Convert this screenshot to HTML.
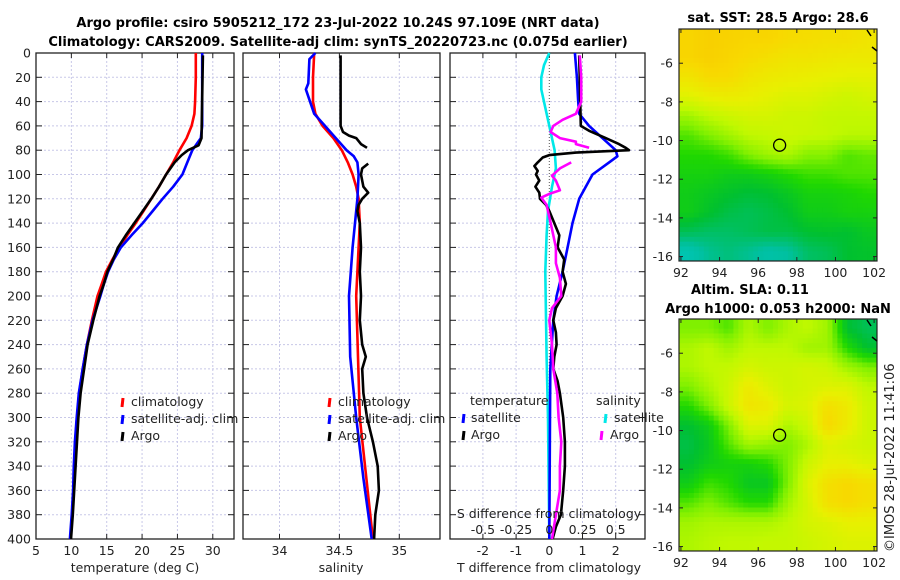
<!DOCTYPE html>
<html><head><meta charset="utf-8"><style>
body{margin:0;background:#fff;}
svg{display:block;font-family:"DejaVu Sans","Liberation Sans",sans-serif;}
</style></head><body>
<svg id="fig" width="900" height="580" viewBox="0 0 900 580" xmlns="http://www.w3.org/2000/svg">
<rect width="900" height="580" fill="#fff"/>
<text x="338" y="27" font-size="13" font-weight="bold" text-anchor="middle">Argo profile: csiro 5905212_172 23-Jul-2022 10.24S 97.109E (NRT data)</text>
<text x="338" y="46" font-size="13" font-weight="bold" text-anchor="middle">Climatology: CARS2009. Satellite-adj clim: synTS_20220723.nc (0.075d earlier)</text>
<g id="g1"></g>
<g id="g2"></g>
<g id="g3"></g>
<g id="m1"></g>
<g id="m2"></g>
<text x="778" y="22" font-size="13" font-weight="bold" text-anchor="middle">sat. SST: 28.5 Argo: 28.6</text>
<text x="750" y="294" font-size="13" font-weight="bold" text-anchor="middle">Altim. SLA: 0.11</text>
<text x="778" y="313" font-size="13" font-weight="bold" text-anchor="middle">Argo h1000: 0.053 h2000: NaN</text>
<text transform="translate(894,552) rotate(-90)" font-size="13" fill="#222">©IMOS 28-Jul-2022 11:41:06</text>
</svg>
<script>
// ---- data ----
const depthTicks=[0,20,40,60,80,100,120,140,160,180,200,220,240,260,280,300,320,340,360,380,400];
const tClimD=[0,20,40,50,60,70,80,90,100,110,120,130,140,150,160,170,180,190,200,220,240,260,280,300,320,340,360,380,400];
const tClimV=[27.6,27.6,27.5,27.4,27.0,26.3,25.3,24.4,23.4,22.4,21.3,20.2,19.1,17.9,16.8,15.8,14.9,14.3,13.7,12.9,12.2,11.6,11.1,10.8,10.55,10.4,10.3,10.1,9.85];
const tSatD=[0,60,70,80,90,100,110,120,130,140,150,160,170,180,190,200,220,240,260,280,300,320,340,360,380,400];
const tSatV=[28.5,28.5,28.3,27.1,26.4,25.7,24.4,22.9,21.5,20.1,18.5,17.0,16.0,15.2,14.6,14.1,13.0,12.2,11.6,11.05,10.75,10.5,10.35,10.25,10.05,9.8];
const tArgoD=[2,70,76,80,84,90,100,110,120,130,140,150,160,170,180,190,200,220,240,260,280,300,320,340,360,380,400];
const tArgoV=[28.6,28.4,28.0,26.5,25.6,24.6,23.4,22.4,21.3,20.1,18.9,17.7,16.6,15.9,15.1,14.6,14.0,13.1,12.3,11.8,11.3,11.0,10.8,10.6,10.4,10.2,9.95];
const sClimD=[0,20,40,50,60,70,80,90,100,110,120,140,160,200,300,400];
const sClimV=[34.29,34.28,34.28,34.30,34.36,34.45,34.52,34.57,34.61,34.64,34.66,34.67,34.66,34.64,34.67,34.78];
const sSatD=[0,5,25,30,50,60,70,80,85,90,100,120,140,160,200,250,300,350,400];
const sSatV=[34.30,34.25,34.24,34.22,34.29,34.38,34.47,34.56,34.62,34.65,34.66,34.65,34.63,34.61,34.58,34.59,34.64,34.70,34.77];
const sArgoD=[2,60,65,68,70,75,78,null,91,95,100,110,115,120,125,130,140,160,180,200,220,240,250,260,280,300,320,340,360,380,400];
const sArgoV=[34.51,34.51,34.53,34.58,34.64,34.68,34.73,null,34.74,34.69,34.68,34.70,34.74,34.69,34.66,34.65,34.67,34.68,34.67,34.68,34.67,34.69,34.72,34.69,34.70,34.73,34.78,34.82,34.83,34.80,34.79];
const dtSatD=[0,20,40,50,60,70,80,85,90,100,120,140,160,180,200,220,260,300,400];
const dtSatV=[0.77,0.83,0.87,0.9,1.2,1.6,2.0,2.05,1.8,1.3,0.9,0.7,0.55,0.4,0.22,0.12,0.03,0.02,0.0];
const dtArgoD=[2,60,64,70,75,78,80,82,84,86,90,93,97,100,105,110,115,120,125,130,140,150,160,170,180,190,200,210,220,230,240,250,260,270,280,300,320,340,360,380,390,400];
const dtArgoV=[0.9,0.95,1.2,1.7,2.1,2.3,2.4,0.8,0.0,-0.2,-0.35,-0.45,-0.35,-0.4,-0.3,-0.42,-0.3,-0.28,-0.1,0.0,0.15,0.3,0.25,0.45,0.4,0.5,0.4,0.2,0.12,0.2,0.22,0.15,0.12,0.25,0.32,0.42,0.47,0.47,0.42,0.35,0.2,0.1];
const dsSatD=[0,10,20,30,45,60,80,95,110,130,150,180,250,300,400];
const dsSatV=[0.0,-0.04,-0.06,-0.06,-0.03,0.0,0.04,0.05,0.02,-0.01,-0.02,-0.03,-0.02,-0.01,0.0];
const dsArgoD=[2,20,40,50,55,60,65,70,73,75,78,null,90,95,101,105,113,116,119,125,145,160,173,185,200,210,220,240,260,280,300,320,340,360,380,400];
const dsArgoV=[0.23,0.24,0.24,0.2,0.1,0.03,0.01,0.08,0.2,0.2,0.3,null,0.165,0.08,0.02,0.05,0.08,0.0,-0.06,-0.02,0.02,0.05,0.05,0.08,0.09,0.02,0.0,0.02,0.03,0.06,0.07,0.09,0.08,0.08,0.05,0.02];
const tTicks=[5,10,15,20,25,30];
const sTicks=[34,34.5,35];
const dtTicks=[-2,-1,0,1,2];
const dsTicks=[-0.5,-0.25,0,0.25,0.5];
const dsTickLabels=["-0.5","-0.25","0","0.25","0.5"];
const lonTicks=[92,94,96,98,100,102];
const latTicks=[-6,-8,-10,-12,-14,-16];
const sstGrid=[
[0.86,0.88,0.87,0.86,0.86,0.84,0.83,0.82,0.82,0.8],
[0.86,0.88,0.86,0.84,0.82,0.8,0.8,0.79,0.78,0.78],
[0.8,0.84,0.84,0.8,0.78,0.77,0.76,0.75,0.74,0.74],
[0.73,0.76,0.77,0.76,0.74,0.72,0.72,0.7,0.68,0.7],
[0.6,0.65,0.68,0.7,0.7,0.68,0.68,0.66,0.66,0.66],
[0.5,0.55,0.6,0.65,0.66,0.68,0.67,0.66,0.64,0.64],
[0.45,0.45,0.48,0.55,0.6,0.62,0.56,0.56,0.5,0.52],
[0.42,0.42,0.4,0.4,0.42,0.45,0.48,0.48,0.5,0.5],
[0.4,0.38,0.36,0.34,0.35,0.38,0.42,0.42,0.43,0.45],
[0.4,0.36,0.32,0.3,0.32,0.35,0.4,0.4,0.42,0.42],
[0.3,0.28,0.28,0.3,0.32,0.32,0.35,0.36,0.35,0.38],
[0.15,0.22,0.25,0.22,0.18,0.2,0.28,0.3,0.35,0.36]];
const slaGrid=[
[0.55,0.55,0.5,0.62,0.55,0.62,0.65,0.6,0.35,0.3],
[0.62,0.65,0.6,0.65,0.65,0.65,0.6,0.6,0.45,0.35],
[0.62,0.65,0.66,0.7,0.68,0.68,0.7,0.68,0.6,0.55],
[0.55,0.62,0.68,0.78,0.72,0.68,0.7,0.72,0.72,0.65],
[0.45,0.55,0.68,0.8,0.78,0.7,0.72,0.82,0.78,0.68],
[0.35,0.4,0.55,0.72,0.72,0.62,0.68,0.85,0.78,0.68],
[0.32,0.38,0.5,0.6,0.58,0.55,0.62,0.72,0.7,0.68],
[0.35,0.4,0.42,0.42,0.45,0.55,0.68,0.75,0.75,0.72],
[0.4,0.48,0.45,0.38,0.38,0.55,0.72,0.82,0.85,0.82],
[0.5,0.55,0.5,0.45,0.45,0.6,0.7,0.82,0.85,0.82],
[0.6,0.62,0.62,0.62,0.62,0.65,0.7,0.72,0.75,0.75],
[0.62,0.64,0.65,0.65,0.66,0.66,0.68,0.7,0.72,0.72]];
const argoLon=97.109, argoLat=-10.24;

// ---- helpers ----
const NS="http://www.w3.org/2000/svg";
function mk(tag,attrs,parent){const e=document.createElementNS(NS,tag);for(const k in attrs)e.setAttribute(k,attrs[k]);parent.appendChild(e);return e;}
const Y0=53,Y1=539;
const yD=d=>Y0+d/400*(Y1-Y0);
function lin(d0,d1,r0,r1){return v=>r0+(v-d0)/(d1-d0)*(r1-r0);}

function frame(g,x0,x1,vgrid,xs,zeroDotted){
  vgrid.forEach(v=>{const x=xs(v);
    const l=mk('line',{x1:x,x2:x,y1:Y0,y2:Y1,stroke:(zeroDotted&&v===0)?'#555':'#c8c8e8','stroke-width':1,'stroke-dasharray':(zeroDotted&&v===0)?'1,2':'2,2'},g);
    
    mk('line',{x1:x,x2:x,y1:Y0,y2:Y0+5,stroke:'#222'},g);mk('line',{x1:x,x2:x,y1:Y1,y2:Y1-5,stroke:'#222'},g);});
  depthTicks.forEach(d=>{const y=yD(d);
    if(d>0&&d<400){const l=mk('line',{x1:x0,x2:x1,y1:y,y2:y,stroke:'#c8c8e8','stroke-dasharray':'2,2'},g);
      }
    mk('line',{x1:x0,x2:x0+6,y1:y,y2:y,stroke:'#222'},g);mk('line',{x1:x1,x2:x1-6,y1:y,y2:y,stroke:'#222'},g);});
  const r=mk('rect',{x:x0,y:Y0,width:x1-x0,height:Y1-Y0,fill:'none',stroke:'#222','stroke-width':1.3},g);
  
}
function series(g,D,V,xs,color,name){
  let d='',pen=false;
  for(let i=0;i<D.length;i++){if(D[i]===null){pen=false;continue;}
    d+=(pen?'L':'M')+xs(V[i]).toFixed(1)+','+yD(D[i]).toFixed(1);pen=true;}
  const p=mk('path',{d:d,fill:'none',stroke:color,'stroke-width':2.6,'stroke-linejoin':'round'},g);
  
}
function txt(g,x,y,s,opts,name){const t=mk('text',Object.assign({x:x,y:y,'font-size':12.5,fill:'#222'},opts||{}),g);t.textContent=s;
  return t;}
function legMark(g,x,y,color){const l=mk('line',{x1:x+1,x2:x,y1:y-9,y2:y,stroke:color,'stroke-width':3},g);
  }

// ---- panel 1 ----
const g1=document.getElementById('g1');
const xT=lin(5,33,36,234);
frame(g1,36,234,[10,15,20,25,30],xT,false);
depthTicks.forEach(d=>txt(g1,31,yD(d)+4.5,String(d),{'text-anchor':'end'},'y-tick-label'));
tTicks.forEach(v=>txt(g1,xT(v),555,String(v),{'text-anchor':'middle'},'x-tick-label'));
txt(g1,135,572,'temperature (deg C)',{'text-anchor':'middle'},'x-axis-title');
series(g1,tClimD,tClimV,xT,'#f00','temp-climatology-line');
series(g1,tSatD,tSatV,xT,'#00f','temp-satellite-line');
series(g1,tArgoD,tArgoV,xT,'#000','temp-argo-line');
[['climatology','#f00'],['satellite-adj. clim','#00f'],['Argo','#000']].forEach((e,i)=>{const y=406+i*17;legMark(g1,122,y+1,e[1]);txt(g1,131,y,e[0],{},'legend-entry');});

// ---- panel 2 ----
const g2=document.getElementById('g2');
const xS=lin(34,35,279.5,399.3);
frame(g2,243,440,sTicks,xS,false);
sTicks.forEach(v=>txt(g2,xS(v),555,String(v),{'text-anchor':'middle'},'x-tick-label'));
txt(g2,341,572,'salinity',{'text-anchor':'middle'},'x-axis-title');
series(g2,sClimD,sClimV,xS,'#f00','sal-climatology-line');
series(g2,sSatD,sSatV,xS,'#00f','sal-satellite-line');
series(g2,sArgoD,sArgoV,xS,'#000','sal-argo-line');
[['climatology','#f00'],['satellite-adj. clim','#00f'],['Argo','#000']].forEach((e,i)=>{const y=406+i*17;legMark(g2,329,y+1,e[1]);txt(g2,338,y,e[0],{},'legend-entry');});

// ---- panel 3 ----
const g3=document.getElementById('g3');
const xDT=lin(0,1,549.3,582.5);
const xDS=lin(0,0.25,549.3,582.5);
frame(g3,450,645,dtTicks,xDT,true);
dtTicks.forEach(v=>txt(g3,xDT(v),555,String(v),{'text-anchor':'middle'},'t-diff-tick-label'));
txt(g3,549,572,'T difference from climatology',{'text-anchor':'middle'},'t-diff-axis-title');
series(g3,dsSatD,dsSatV,xDS,'#00e8e8','s-diff-satellite-line');
series(g3,dtSatD,dtSatV,xDT,'#00f','t-diff-satellite-line');
series(g3,dtArgoD,dtArgoV,xDT,'#000','t-diff-argo-line');
series(g3,dsArgoD,dsArgoV,xDS,'#ff00ff','s-diff-argo-line');
dsTicks.forEach((v,i)=>txt(g3,xDS(v),534,dsTickLabels[i],{'text-anchor':'middle'},'s-diff-tick-label'));
txt(g3,549,518,'S difference from climatology',{'text-anchor':'middle'},'s-diff-axis-title');
txt(g3,470,405,'temperature',{},'legend-header-temperature');
txt(g3,596,405,'salinity',{},'legend-header-salinity');
legMark(g3,463,423,'#00f');txt(g3,471,422,'satellite',{},'legend-entry');
legMark(g3,463,440,'#000');txt(g3,471,439,'Argo',{},'legend-entry');
legMark(g3,605,423,'#00e8e8');txt(g3,614,422,'satellite',{},'legend-entry');
legMark(g3,601,440,'#ff00ff');txt(g3,610,439,'Argo',{},'legend-entry');

// ---- maps ----
const stops=[[0,[0,208,224]],[0.2,[0,192,160]],[0.35,[0,192,48]],[0.45,[32,216,0]],[0.55,[128,240,0]],[0.65,[192,248,0]],[0.75,[232,240,0]],[0.85,[248,216,0]],[1,[248,176,0]]];
function cmap(v){for(let i=1;i<stops.length;i++){if(v<=stops[i][0]){const a=stops[i-1],b=stops[i],f=(v-a[0])/(b[0]-a[0]);
  return 'rgb('+a[1].map((c,k)=>Math.round(c+(b[1][k]-c)*f)).join(',')+')';}}return 'rgb(248,176,0)';}
function sample(grid,r,c){const R=grid.length,C=grid[0].length;
  r=Math.max(0,Math.min(R-1,r));c=Math.max(0,Math.min(C-1,c));
  const r0=Math.floor(r),c0=Math.floor(c),r1=Math.min(R-1,r0+1),c1=Math.min(C-1,c0+1),fr=r-r0,fc=c-c0;
  return grid[r0][c0]*(1-fr)*(1-fc)+grid[r0][c1]*(1-fr)*fc+grid[r1][c0]*fr*(1-fc)+grid[r1][c1]*fr*fc;}
function drawMap(id,grid,top,bot){
  const g=document.getElementById(id);const x0=679,x1=877;
  const xL=lin(91.9,102.15,x0,x1), yL=lin(-4.23,-16.23,top,bot);
  const rows=grid.length,cols=grid[0].length,SUB=4,NR=rows*SUB,NC=cols*SUB;
  const cw=(x1-x0)/NC,ch=(bot-top)/NR;
  for(let r=0;r<NR;r++)for(let c=0;c<NC;c++){
    const v=sample(grid,(r+0.5)/SUB-0.5,(c+0.5)/SUB-0.5);
    const e=mk('rect',{x:(x0+c*cw).toFixed(2),y:(top+r*ch).toFixed(2),width:(cw+0.5).toFixed(2),height:(ch+0.5).toFixed(2),fill:cmap(v)},g);
    }
  const f=mk('rect',{x:x0,y:top,width:x1-x0,height:bot-top,fill:'none',stroke:'#222','stroke-width':1.2},g);
  
  lonTicks.forEach(v=>{const x=xL(v);mk('line',{x1:x,x2:x,y1:bot,y2:bot-4,stroke:'#222'},g);mk('line',{x1:x,x2:x,y1:top,y2:top+4,stroke:'#222'},g);
    txt(g,x,bot+16,String(v),{'text-anchor':'middle'},'lon-tick-label');});
  latTicks.forEach(v=>{const y=yL(v);mk('line',{x1:x0,x2:x0+4,y1:y,y2:y,stroke:'#222'},g);mk('line',{x1:x1,x2:x1-4,y1:y,y2:y,stroke:'#222'},g);
    txt(g,673,y+4.5,String(v),{'text-anchor':'end'},'lat-tick-label');});
  const c=mk('circle',{cx:xL(argoLon),cy:yL(argoLat),r:6,fill:'none',stroke:'#000','stroke-width':1.3},g);
  
  mk('path',{d:'M'+(x1-10)+','+(top+1)+' l4,6 M'+(x1-5)+','+(top+18)+' l5,4',stroke:'#000','stroke-width':1.5,fill:'none'},g);
}
drawMap('m1',sstGrid,29,261);
drawMap('m2',slaGrid,319,551);
</script>
</body></html>
